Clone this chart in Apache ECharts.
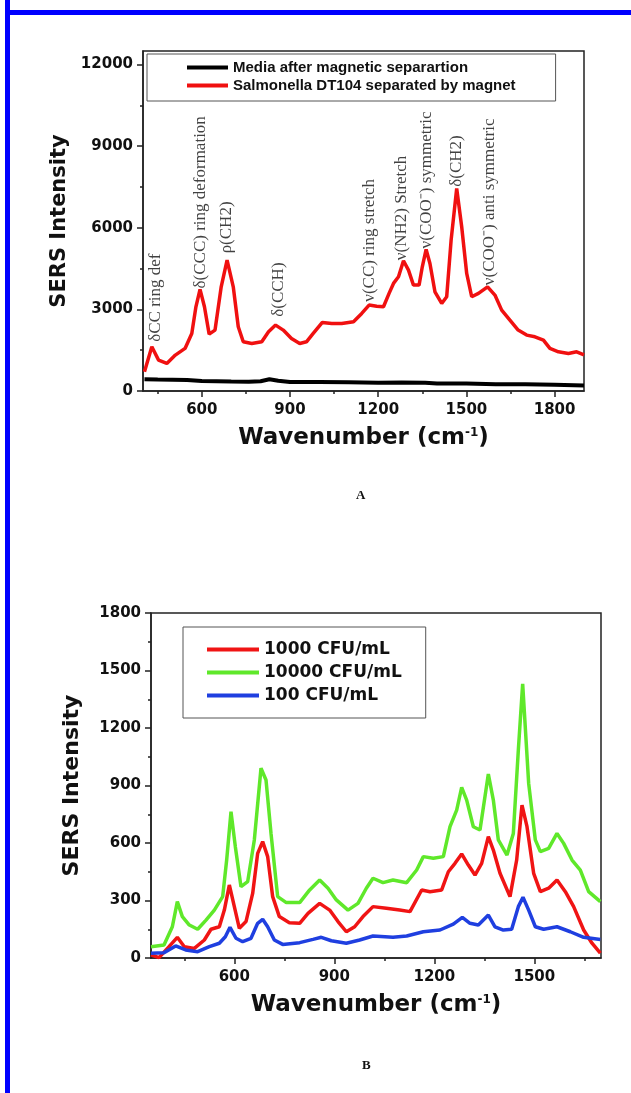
<!DOCTYPE html>
<html>
<head>
<meta charset="utf-8">
<script src="https://cdn.jsdelivr.net/npm/echarts@6/dist/echarts.min.js"></script>
<style>
  html, body { margin: 0; padding: 0; background: #fff; }
  #chart { width: 631px; height: 1093px; }
</style>
</head>
<body>
<div id="chart"></div>
<script>
  // panel A: SERS spectra, media vs Salmonella after magnetic separation
  const mediaA = [
    [405, 430], [450, 420], [500, 410], [550, 400], [600, 370], [650, 360], [700, 350],
    [760, 340], [800, 360], [830, 430], [860, 380], [900, 330], [1000, 330], [1100, 320],
    [1200, 300], [1280, 310], [1360, 300], [1400, 280], [1500, 280], [1600, 250],
    [1700, 250], [1800, 230], [1900, 200]
  ]
  const salmonellaA = [
    [405, 706], [430, 1625], [453, 1136], [481, 1014], [510, 1320], [543, 1565], [566, 2117],
    [580, 3096], [594, 3734], [609, 3096], [625, 2092], [645, 2239], [666, 3831], [686, 4812],
    [707, 3831], [724, 2361], [741, 1809], [770, 1748], [804, 1809], [827, 2176], [851, 2423],
    [877, 2239], [905, 1933], [933, 1748], [956, 1809], [979, 2117], [1010, 2522], [1042, 2484],
    [1076, 2484], [1116, 2545], [1144, 2852], [1169, 3158], [1195, 3117], [1218, 3096],
    [1237, 3588], [1252, 3955], [1269, 4199], [1286, 4787], [1303, 4444], [1320, 3893],
    [1339, 3893], [1350, 4566], [1363, 5204], [1376, 4690], [1393, 3648], [1416, 3219],
    [1433, 3465], [1448, 5546], [1467, 7447], [1484, 6037], [1501, 4322], [1518, 3465],
    [1541, 3588], [1572, 3831], [1597, 3526], [1620, 2974], [1648, 2606], [1676, 2239],
    [1705, 2055], [1733, 1994], [1762, 1872], [1784, 1565], [1813, 1442], [1847, 1381],
    [1875, 1442], [1900, 1330]
  ]
  const peakNames = [
    'δCC ring def', 'δ(CCC) ring deformation', 'ρ(CH2)', 'δ(CCH)', 'ν(CC) ring stretch',
    'ν(NH2) Stretch', 'ν(COO⁻) symmetric', 'δ(CH2)', 'ν(COO⁻) anti symmetric'
  ]
  const peakWavenumbers = [444, 594, 685, 861, 1172, 1280, 1365, 1467, 1580]
  const peakLabelBase = [1810, 3770, 5060, 2730, 3280, 4810, 5240, 7510, 3890]
  const xTicksA = [600, 900, 1200, 1500, 1800]
  const xMinorA = [450, 750, 1050, 1350, 1650]
  const yTicksA = [0, 3000, 6000, 9000, 12000]
  const yMinorA = [1500, 4500, 7500, 10500]

  // panel B: concentration series
  const cfu1000 = [
    [350, 16], [374, 2], [404, 59], [429, 108], [450, 59], [480, 50], [510, 94], [530, 150],
    [555, 163], [570, 250], [585, 381], [600, 268], [615, 155], [635, 190], [655, 337],
    [670, 546], [685, 607], [700, 529], [715, 320], [735, 216], [765, 184], [796, 181],
    [821, 233], [856, 285], [886, 250], [911, 190], [936, 137], [961, 163], [986, 216],
    [1016, 268], [1056, 259], [1096, 250], [1127, 242], [1162, 355], [1187, 346], [1222, 355],
    [1242, 450], [1262, 494], [1282, 543], [1302, 485], [1322, 433], [1342, 494], [1362, 633],
    [1377, 563], [1397, 442], [1427, 320], [1447, 511], [1463, 798], [1478, 685], [1498, 442],
    [1518, 346], [1543, 364], [1568, 407], [1593, 346], [1618, 268], [1648, 146], [1673, 77],
    [1698, 25]
  ]
  const cfu10000 = [
    [350, 59], [389, 68], [414, 163], [429, 294], [444, 216], [465, 172], [490, 150],
    [515, 198], [540, 250], [565, 320], [577, 511], [590, 763], [603, 581], [620, 372],
    [640, 398], [660, 616], [680, 990], [695, 929], [710, 650], [730, 320], [756, 289],
    [796, 289], [826, 355], [856, 407], [881, 364], [906, 303], [941, 250], [971, 285],
    [996, 364], [1016, 416], [1046, 393], [1076, 407], [1117, 393], [1147, 459], [1167, 529],
    [1197, 520], [1227, 529], [1247, 685], [1267, 772], [1282, 890], [1297, 824], [1317, 685],
    [1337, 668], [1362, 960], [1377, 824], [1392, 616], [1418, 537], [1437, 650], [1452, 1085],
    [1465, 1430], [1483, 911], [1503, 616], [1518, 555], [1543, 572], [1568, 650], [1588, 598],
    [1613, 511], [1638, 459], [1663, 346], [1698, 294]
  ]
  const cfu100 = [
    [350, 25], [389, 28], [424, 63], [454, 42], [490, 33], [525, 59], [555, 77], [573, 111],
    [587, 160], [605, 103], [625, 85], [650, 103], [670, 181], [685, 202], [700, 163],
    [720, 94], [745, 71], [796, 80], [836, 97], [861, 108], [891, 90], [936, 77], [976, 94],
    [1016, 115], [1076, 108], [1117, 115], [1167, 137], [1217, 146], [1257, 177], [1284, 212],
    [1307, 181], [1332, 172], [1362, 224], [1382, 163], [1407, 146], [1432, 150], [1452, 268],
    [1466, 317], [1483, 250], [1503, 163], [1528, 150], [1568, 163], [1608, 137], [1648, 108],
    [1698, 97]
  ]
  const xTicksB = [600, 900, 1200, 1500]
  const xMinorB = [450, 750, 1050, 1350, 1650]

  const sans = 'DejaVu Sans'
  const serif = 'Liberation Serif'
  const ink = '#111'

  const axisName = {
    t: {fontFamily: sans, fontWeight: 'bold', fontSize: 23, color: ink},
    s: {fontFamily: sans, fontWeight: 'bold', fontSize: 12, color: ink, verticalAlign: 'top'}
  }
  // no thousands separators, plain numbers like the original
  const plain = v => String(v)
  const tickLabel = {fontFamily: sans, fontWeight: 'bold', fontSize: 15, color: ink, formatter: plain}
  const line = {lineStyle: {color: '#222', width: 1.5}}

  function xMain (grid, min, max, ticks) {
    return {
      type: 'value', gridIndex: grid, min: min, max: max, position: 'bottom',
      axisLine: line,
      axisTick: {show: true, length: 6, customValues: ticks, lineStyle: {color: '#222', width: 1.5}},
      axisLabel: Object.assign({margin: 12, customValues: ticks}, tickLabel),
      splitLine: {show: false},
      name: '{t|Wavenumber (cm}{s|-1}{t|)}',
      nameLocation: 'middle', nameGap: 36,
      nameTextStyle: {rich: axisName}
    }
  }
  function minorAxis (grid, min, max, ticks, pos) {
    return {
      type: 'value', gridIndex: grid, min: min, max: max, position: pos,
      axisLine: {show: false},
      axisTick: {show: true, length: 3, customValues: ticks, lineStyle: {color: '#222', width: 1.5}},
      axisLabel: {show: false},
      splitLine: {show: false}
    }
  }
  function yName (gap, size) {
    return {
      name: 'SERS Intensity', nameLocation: 'middle', nameGap: gap, nameRotate: 90,
      nameTextStyle: {fontFamily: sans, fontWeight: 'bold', fontSize: size, color: ink}
    }
  }

  const chart = echarts.init(document.getElementById('chart'), null, {renderer: 'canvas'})
  chart.setOption({
    backgroundColor: '#fff',
    animation: false,
    title: [
      {text: 'A', left: 351, top: 484, textStyle: {fontFamily: serif, fontWeight: 'bold', fontSize: 13, color: ink}},
      {text: 'B', left: 357, top: 1054, textStyle: {fontFamily: serif, fontWeight: 'bold', fontSize: 13, color: ink}}
    ],
    graphic: [
      {type: 'rect', left: 5, top: 0, shape: {width: 5, height: 1093}, style: {fill: '#0000ff'}},
      {type: 'rect', left: 5, top: 10, shape: {width: 626, height: 5}, style: {fill: '#0000ff'}}
    ],
    grid: [
      {left: 143, top: 51, width: 441, height: 340, show: true, borderColor: '#222', borderWidth: 1.5},
      {left: 151, top: 613, width: 450, height: 345, show: true, borderColor: '#222', borderWidth: 1.5}
    ],
    legend: [
      {
        data: ['Media after magnetic separartion', 'Salmonella DT104 separated by magnet'],
        orient: 'vertical', left: 147, top: 54, padding: [6, 40, 8, 40], itemGap: 3,
        icon: 'rect', itemWidth: 41, itemHeight: 4,
        borderColor: '#555', borderWidth: 1,
        textStyle: {fontFamily: 'Liberation Sans', fontWeight: 'bold', fontSize: 15, color: ink}
      },
      {
        data: ['1000 CFU/mL', '10000 CFU/mL', '100 CFU/mL'],
        orient: 'vertical', left: 183, top: 627, padding: [14, 24, 14, 24], itemGap: 6,
        icon: 'rect', itemWidth: 52, itemHeight: 4,
        borderColor: '#555', borderWidth: 1,
        textStyle: {fontFamily: sans, fontWeight: 'bold', fontSize: 17, color: ink}
      }
    ],
    xAxis: [
      xMain(0, 400, 1900, xTicksA),
      minorAxis(0, 400, 1900, xMinorA, 'bottom'),
      xMain(1, 350, 1700, xTicksB),
      minorAxis(1, 350, 1700, xMinorB, 'bottom')
    ],
    yAxis: [
      Object.assign({
        type: 'value', gridIndex: 0, min: 0, max: 12500,
        axisLine: line,
        axisTick: {show: true, length: 6, customValues: yTicksA, lineStyle: {color: '#222', width: 1.5}},
        axisLabel: Object.assign({margin: 10, customValues: yTicksA}, tickLabel),
        splitLine: {show: false}
      }, yName(73, 21)),
      minorAxis(0, 0, 12500, yMinorA, 'left'),
      Object.assign({
        type: 'value', gridIndex: 1, min: 0, max: 1800, interval: 300,
        axisLine: line,
        axisTick: {show: true, length: 6, lineStyle: {color: '#222', width: 1.5}},
        minorTick: {show: true, splitNumber: 2, length: 3, lineStyle: {color: '#222', width: 1.5}},
        axisLabel: Object.assign({margin: 10}, tickLabel),
        splitLine: {show: false}
      }, yName(68, 22))
    ],
    series: [
      {
        name: 'Media after magnetic separartion', type: 'line', xAxisIndex: 0, yAxisIndex: 0,
        data: mediaA, symbol: 'none', color: '#000', lineStyle: {width: 4}
      },
      {
        name: 'Salmonella DT104 separated by magnet', type: 'line', xAxisIndex: 0, yAxisIndex: 0,
        data: salmonellaA, symbol: 'none', color: '#f01010', lineStyle: {width: 3.5}
      },
      {
        type: 'scatter', xAxisIndex: 0, yAxisIndex: 0, symbolSize: 0, silent: true,
        data: peakNames.map((n, i) => ({name: n, value: [peakWavenumbers[i], peakLabelBase[i]]})),
        label: {
          show: true, formatter: '{b}', rotate: 90, position: [0, 0], align: 'left', verticalAlign: 'middle',
          fontFamily: serif, fontSize: 17, color: ink
        }
      },
      {
        name: '1000 CFU/mL', type: 'line', xAxisIndex: 2, yAxisIndex: 2,
        data: cfu1000, symbol: 'none', color: '#f01414', lineStyle: {width: 3.5}
      },
      {
        name: '10000 CFU/mL', type: 'line', xAxisIndex: 2, yAxisIndex: 2,
        data: cfu10000, symbol: 'none', color: '#5fe82a', lineStyle: {width: 3.5}
      },
      {
        name: '100 CFU/mL', type: 'line', xAxisIndex: 2, yAxisIndex: 2,
        data: cfu100, symbol: 'none', color: '#1f3fe0', lineStyle: {width: 3.5}
      }
    ]
  })
</script>
</body>
</html>
